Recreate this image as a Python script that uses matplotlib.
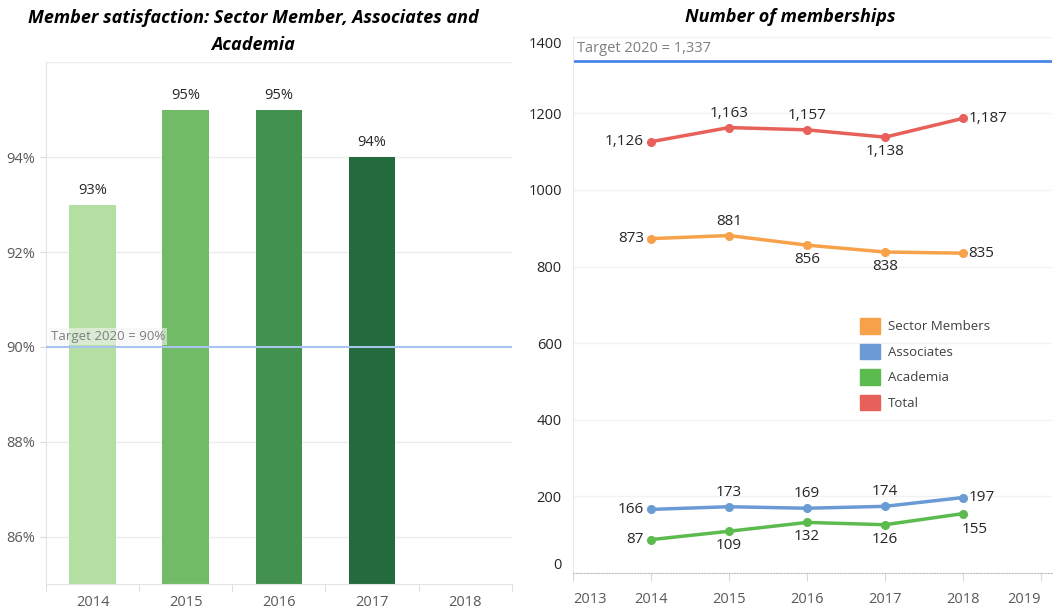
import matplotlib
matplotlib.use("Agg")
import matplotlib.pyplot as plt
from matplotlib.patches import Patch

# ---- data ----
sat_years = ["2014", "2015", "2016", "2017", "2018"]
sat_values = [93, 95, 95, 94]          # 2018 has no survey value
sat_target = 90

years = [2014, 2015, 2016, 2017, 2018]
sector_members = [873, 881, 856, 838, 835]
associates = [166, 173, 169, 174, 197]
academia = [87, 109, 132, 126, 155]
total = [1126, 1163, 1157, 1138, 1187]
members_target = 1337

plt.rcParams["font.family"] = ["Open Sans", "DejaVu Sans"]

fig = plt.figure(figsize=(10.54, 6.10), dpi=100)

TICK_GRAY = "#595959"
GRID = "#ececec"

# ---- left: satisfaction bars ----
ax1 = fig.add_axes([0.0436, 0.0426, 0.442, 0.855])
bar_colors = ["#b3dfa3", "#72bb66", "#43914e", "#236b3d"]
xs = list(range(len(sat_values)))
ax1.bar(xs, [v - 85 for v in sat_values], bottom=85, width=0.5, color=bar_colors, zorder=2)
for x, v in zip(xs, sat_values):
    ax1.text(x, v + 0.15, f"{v}%", ha="center", va="bottom", fontsize=10.5, color="#262626")
ax1.set_xlim(-0.5, 4.5)
ax1.set_ylim(85, 96)
ax1.set_xticks(range(len(sat_years)))
ax1.set_xticklabels(sat_years, fontsize=10.5, color=TICK_GRAY)
ax1.set_xticks([i - 0.5 for i in range(len(sat_years) + 1)], minor=True)
ax1.tick_params(axis="x", which="major", length=0, pad=8)
ax1.tick_params(axis="x", which="minor", length=6, color="#d9d9d9")
ax1.set_yticks([86, 88, 90, 92, 94])
ax1.set_yticklabels([f"{t}%" for t in [86, 88, 90, 92, 94]], fontsize=10.5, color=TICK_GRAY)
ax1.tick_params(axis="y", length=4, color="#d9d9d9", pad=4)
for g in [86, 88, 92, 94, 96]:
    ax1.axhline(g, color=GRID, lw=1, zorder=0)
ax1.axhline(sat_target, color="#a9c4ef", lw=1.5, zorder=3)
ax1.text(0.01, sat_target + 0.08, f"Target 2020 = {sat_target}%", fontsize=9.5, color="#7f7f7f",
         ha="left", va="bottom", zorder=4,
         bbox=dict(boxstyle="square,pad=0.15", fc="#f4f4f4", ec="none", alpha=0.6),
         transform=ax1.get_yaxis_transform())
for s in ["top", "right"]:
    ax1.spines[s].set_visible(False)
ax1.spines["left"].set_color("#e3e3e3")
ax1.spines["bottom"].set_color("#e3e3e3")
fig.text(0.24, 0.970, "Member satisfaction: Sector Member, Associates and",
         ha="center", va="center", fontsize=13, fontweight="bold", fontstyle="italic")
fig.text(0.24, 0.927, "Academia", ha="center", va="center", fontsize=13,
         fontweight="bold", fontstyle="italic")

# ---- right: membership lines ----
ax2 = fig.add_axes([0.5436, 0.0607, 0.4545, 0.879])
c_sector, c_assoc, c_acad, c_total = "#f7a24b", "#6a9bd4", "#5cbb4f", "#e8605a"
series = [
    (sector_members, c_sector, ["left", "above", "below", "below", "right"]),
    (associates, c_assoc, ["left", "above", "above", "above", "right"]),
    (academia, c_acad, ["left", "below", "below", "below", "belowright"]),
    (total, c_total, ["left", "above", "above", "below", "right"]),
]
for vals, col, pos in series:
    ax2.plot(years, vals, color=col, lw=2.5, marker="o", ms=5.5, zorder=3,
             solid_capstyle="round")
    for x, v, p in zip(years, vals, pos):
        lab = f"{v:,}"
        kw = dict(fontsize=11, color="#262626")
        if p == "left":
            ax2.annotate(lab, (x, v), xytext=(-5, 0), textcoords="offset points",
                         ha="right", va="center", **kw)
        elif p == "right":
            ax2.annotate(lab, (x, v), xytext=(4, 0), textcoords="offset points",
                         ha="left", va="center", **kw)
        elif p == "above":
            ax2.annotate(lab, (x, v), xytext=(0, 5), textcoords="offset points",
                         ha="center", va="bottom", **kw)
        elif p == "below":
            ax2.annotate(lab, (x, v), xytext=(0, -5), textcoords="offset points",
                         ha="center", va="top", **kw)
        else:
            ax2.annotate(lab, (x, v), xytext=(8, -6), textcoords="offset points",
                         ha="center", va="top", **kw)

ax2.axhline(members_target, color="#4a86e8", lw=2, zorder=2)
ax2.text(2013.05, members_target + 12, f"Target 2020 = {members_target:,}", fontsize=10.5,
         color="#7f7f7f", ha="left", va="bottom")
ax2.set_xlim(2013, 2019.14)
ax2.set_ylim(0, 1400)
ax2.set_xticks(range(2013, 2020))
xl = ax2.set_xticklabels([str(y) for y in range(2013, 2020)], fontsize=10.5, color=TICK_GRAY)
xl[0].set_ha("left")
xl[-1].set_ha("right")
ax2.tick_params(axis="x", length=6, color="#d9d9d9", pad=8)
yt = list(range(0, 1401, 200))
ax2.set_yticks(yt)
yl = ax2.set_yticklabels([str(t) for t in yt], fontsize=10.5, color="#262626")
yl[0].set_va("bottom")
yl[-1].set_va("top")
ax2.tick_params(axis="y", length=0, pad=8)
for g in yt[1:]:
    ax2.axhline(g, color="#f2f2f2", lw=1, zorder=0)
for s in ["top", "right"]:
    ax2.spines[s].set_visible(False)
ax2.spines["left"].set_color("#e8e8e8")
ax2.spines["bottom"].set_color("#bfbfbf")
ax2.spines["bottom"].set_linestyle((0, (1, 1.5)))
fig.text(0.75, 0.972, "Number of memberships", ha="center", va="center", fontsize=13,
         fontweight="bold", fontstyle="italic")

handles = [Patch(color=c_sector, label="Sector Members"),
           Patch(color=c_assoc, label="Associates"),
           Patch(color=c_acad, label="Academia"),
           Patch(color=c_total, label="Total")]
ax2.legend(handles=handles, loc="upper left", bbox_to_anchor=(0.805, 0.498),
           bbox_transform=fig.transFigure, frameon=False,
           fontsize=9.5, handlelength=1.5, handleheight=1.45, handletextpad=0.6,
           labelspacing=0.75, labelcolor="#404040")

fig.savefig("out.png", dpi=100, facecolor="white")
